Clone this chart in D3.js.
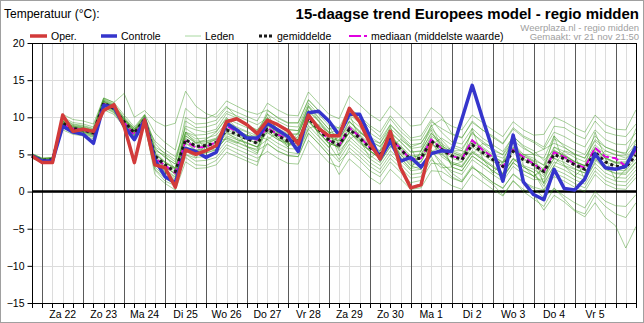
<!DOCTYPE html>
<html lang="nl">
<head>
<meta charset="UTF-8" />
<title>15-daagse trend</title>
<script src="https://d3js.org/d3.v7.min.js"></script>
<style>
  body { margin: 0; background: #fff; }
  text { font-family: "Liberation Sans", Arial, sans-serif; }
</style>
</head>
<body>
<div id="chart"></div>
<script>
  // day labels (at 12:00 of each day), points every 6 hours starting vr 21 18:00
  const dayLabels = ["Za 22", "Zo 23", "Ma 24", "Di 25", "Wo 26", "Do 27", "Vr 28",
    "Za 29", "Zo 30", "Ma 1", "Di 2", "Wo 3", "Do 4", "Vr 5"]
  const yTicks = [-15, -10, -5, 0, 5, 10, 15, 20]

  const oper = [4.8, 3.9, 3.9, 10.3, 8.1, 8.4, 8.1, 10.9, 11.7, 8.8,
    3.9, 9.6, 3.6, 3.2, 0.6, 5.6, 5.0, 5.5, 6.2, 9.4,
    9.8, 9.0, 7.8, 9.6, 9.0, 8.2, 6.4, 10.3, 8.5, 7.5,
    7.5, 11.2, 9.4, 6.5, 4.4, 8.1, 3.2, 0.5, 0.9, 6.5]

  const controle = [4.8, 4.1, 4.1, 8.8, 8.0, 7.7, 6.5, 11.6, 11.4, 8.8,
    7.0, 9.6, 4.3, 2.0, 1.2, 5.8, 5.4, 4.6, 5.3, 9.2,
    8.3, 7.2, 7.2, 9.2, 8.3, 7.4, 5.4, 10.6, 10.8, 9.5,
    7.6, 10.4, 10.4, 7.4, 4.4, 6.8, 4.1, 4.6, 3.3, 5.1,
    5.5, 5.4, 9.8, 14.3, 9.9, 5.6, 1.4, 7.6, 1.3, -0.4,
    -1.1, 3.0, 0.4, 0.2, 1.7, 5.1, 3.2, 3.0, 3.4, 6.1]

  const gemiddelde = [4.8, 4.2, 4.3, 9.2, 8.5, 8.3, 7.9, 11.9, 11.2, 9.4,
    7.9, 9.7, 4.8, 3.6, 2.7, 7.0, 6.1, 6.2, 6.6, 8.3,
    7.7, 7.1, 6.5, 8.4, 7.5, 6.8, 6.7, 9.9, 8.4, 6.9,
    6.3, 8.4, 7.2, 5.9, 5.0, 7.0, 5.7, 4.3, 4.5, 6.8,
    5.7, 4.8, 4.3, 6.3, 5.3, 4.3, 3.4, 5.4, 4.3, 3.6,
    2.7, 5.0, 4.4, 3.6, 3.0, 5.3, 4.0, 3.4, 3.3, 4.9]

  const mediaan = [4.7, 4.1, 4.2, 9.1, 8.5, 8.3, 7.8, 11.8, 11.3, 9.3,
    7.6, 9.7, 4.5, 3.5, 2.5, 6.8, 5.9, 6.0, 6.7, 8.8,
    8.1, 7.2, 7.0, 8.6, 7.7, 7.0, 6.5, 10.0, 8.5, 6.9,
    6.2, 8.6, 7.4, 5.9, 5.0, 7.1, 5.8, 4.3, 4.5, 7.0,
    5.8, 4.8, 4.4, 6.9, 5.6, 4.65, 3.3, 5.65, 4.65, 3.75,
    2.7, 5.3, 4.65, 3.75, 3.2, 5.9, 4.7, 4.5, 3.4, 5.6]

  const leden = [
    [5.0, 4.4, 4.5, 9.8, 9.0, 8.8, 8.4, 12.4, 11.7, 9.9, 8.4, 10.3, 6.0, 5.2, 4.3, 8.8, 8.3, 8.0, 8.4, 10.5,
     9.9, 9.0, 8.3, 9.9, 8.4, 7.6, 7.8, 10.8, 9.6, 8.0, 7.6, 10.6, 9.9, 8.6, 7.4, 9.8, 8.1, 6.9, 7.0, 9.4,
     8.5, 7.7, 7.2, 9.5, 8.3, 7.5, 6.5, 8.6, 7.5, 6.8, 6.0, 8.8, 8.6, 7.7, 7.1, 9.5, 8.0, 7.6, 7.4, 9.1],
    [4.6, 4.0, 4.1, 8.7, 8.1, 7.9, 7.5, 11.5, 10.8, 9.0, 7.5, 9.3, 3.3, 2.0, 1.0, 4.6, 3.6, 3.5, 4.2, 5.9,
     5.2, 4.5, 4.0, 6.5, 5.4, 4.9, 4.7, 7.8, 6.5, 4.9, 5.0, 7.4, 6.1, 4.9, 3.9, 6.1, 4.6, 3.1, 3.4, 5.6,
     3.5, 2.0, 1.3, 3.2, 2.4, 1.2, 0.5, 2.3, 1.2, 0.4, -0.8, 0.4, -0.6, -1.5, -2.2, 0.0, -1.3, -1.9, -2.0, -0.4],
    [4.9, 4.3, 4.4, 10.0, 9.3, 9.1, 8.7, 12.6, 12.0, 10.3, 8.7, 10.4, 7.9, 6.6, 5.6, 11.2, 10.0, 9.8, 10.5, 12.2,
     11.5, 10.8, 10.4, 11.0, 9.9, 9.2, 9.3, 12.3, 10.9, 9.3, 8.5, 9.4, 8.0, 6.8, 6.1, 8.0, 6.7, 5.3, 5.4, 7.9,
     6.2, 5.3, 4.7, 7.0, 5.8, 4.7, 4.0, 6.0, 5.0, 4.2, 3.6, 7.1, 6.3, 5.6, 5.0, 7.5, 6.0, 5.4, 5.2, 7.0],
    [4.5, 3.9, 4.0, 8.3, 7.7, 7.5, 7.1, 11.0, 10.4, 8.7, 7.1, 8.9, 2.9, 1.4, 0.8, 6.0, 5.0, 5.2, 5.7, 7.2,
     6.6, 6.0, 5.7, 9.6, 9.0, 8.4, 8.2, 11.6, 10.0, 8.4, 8.6, 11.2, 10.2, 8.9, 8.0, 10.2, 8.6, 7.2, 7.5, 9.7,
     8.0, 6.7, 6.4, 8.5, 7.2, 6.3, 5.4, 7.4, 6.2, 5.5, 4.2, 5.6, 4.8, 4.0, 3.5, 5.8, 4.6, 3.9, 3.8, 5.3],
    [5.1, 4.5, 4.6, 9.5, 8.8, 8.6, 8.2, 12.2, 11.5, 9.7, 8.2, 10.0, 5.4, 4.0, 3.2, 6.6, 5.6, 5.7, 6.0, 7.8,
     7.2, 6.6, 6.0, 7.0, 6.0, 5.3, 5.1, 8.4, 6.9, 5.4, 4.0, 5.4, 4.2, 2.8, 2.0, 4.0, 2.6, 1.2, 1.5, 3.8,
     3.7, 2.8, 2.3, 4.3, 3.3, 2.3, 1.4, 3.4, 2.3, 1.6, 1.7, 4.0, 3.4, 2.6, 2.0, 4.3, 3.0, 2.4, 2.3, 3.9],
    [4.8, 4.2, 4.3, 9.0, 8.3, 8.1, 7.7, 11.7, 11.0, 9.2, 7.7, 9.5, 4.0, 2.8, 1.9, 8.0, 7.1, 7.2, 7.6, 9.3,
     8.7, 8.1, 7.5, 10.9, 10.0, 9.3, 9.2, 12.4, 10.9, 9.4, 7.3, 8.9, 7.7, 6.4, 5.5, 7.5, 6.2, 4.8, 5.0, 7.3,
     5.2, 3.8, 3.3, 5.3, 4.3, 3.3, 2.4, 4.4, 3.3, 2.6, 0.2, 2.0, 1.4, 0.6, 0.0, 2.3, 1.0, 0.4, 0.3, 1.9],
    [4.7, 4.1, 4.2, 9.8, 9.1, 8.9, 8.5, 12.5, 11.8, 10.0, 8.5, 10.3, 5.8, 4.6, 3.7, 10.0, 9.1, 9.2, 9.6, 11.3,
     10.7, 10.1, 9.5, 11.9, 11.0, 10.3, 10.2, 13.4, 11.9, 10.4, 9.8, 12.9, 11.7, 10.4, 9.5, 11.5, 10.2, 8.8, 9.0, 11.3,
     10.2, 7.8, 7.3, 9.3, 8.3, 7.3, 6.4, 8.4, 7.3, 6.6, 5.7, 6.5, 5.9, 5.1, 4.5, 6.8, 5.5, 4.9, 4.8, 6.4],
    [5.0, 4.4, 4.5, 8.7, 8.0, 7.8, 7.4, 11.4, 10.7, 8.9, 7.4, 9.2, 2.3, 1.1, 0.2, 4.0, 3.1, 3.2, 3.6, 5.3,
     4.7, 4.1, 3.5, 7.4, 6.5, 5.8, 5.7, 8.9, 7.4, 5.9, 7.8, 9.9, 8.7, 7.4, 6.5, 8.5, 7.2, 5.8, 6.0, 8.3,
     5.7, 4.8, 4.3, 6.3, 5.3, 4.3, 3.4, 5.4, 4.3, 3.6, 1.2, 3.5, 2.9, 2.1, 1.5, 3.8, 2.5, 1.9, 1.8, 3.4],
    [4.6, 4.0, 4.1, 9.4, 8.7, 8.5, 8.1, 12.1, 11.4, 9.6, 8.1, 9.9, 4.8, 3.6, 2.7, 7.5, 6.6, 6.7, 7.1, 8.8,
     8.2, 7.6, 7.0, 7.9, 7.0, 6.3, 6.2, 9.4, 7.9, 6.4, 4.3, 6.4, 5.2, 3.9, 3.0, 5.0, 3.7, 2.3, 2.5, 4.8,
     1.7, 0.8, 0.3, 2.3, 1.3, 0.3, -0.6, 1.4, 0.3, -0.4, -2.5, -0.5, -1.4, -2.6, -3.4, -1.5, -3.5, -4.6, -7.6, -4.7],
    [4.9, 4.3, 4.4, 8.9, 8.2, 8.0, 7.6, 11.6, 10.9, 9.1, 7.6, 9.4, 6.8, 5.6, 4.7, 8.5, 7.6, 7.7, 8.1, 9.8,
     9.2, 8.6, 8.0, 8.4, 7.5, 6.8, 6.7, 9.9, 8.4, 6.9, 5.8, 7.9, 6.7, 5.4, 4.5, 6.5, 5.2, 3.8, 4.0, 6.3,
     7.2, 6.3, 5.8, 7.8, 6.8, 5.8, 4.9, 6.9, 5.8, 5.1, 5.7, 8.0, 7.4, 6.6, 6.0, 8.3, 7.0, 6.4, 6.3, 7.9],
    [4.8, 4.2, 4.3, 9.6, 8.9, 8.7, 8.3, 12.3, 11.6, 9.8, 8.3, 10.1, 3.8, 2.6, 1.7, 5.0, 4.1, 4.2, 4.6, 6.3,
     5.7, 5.1, 4.5, 5.4, 4.5, 3.8, 3.7, 6.9, 5.4, 3.9, 3.3, 5.9, 4.7, 3.4, 2.5, 4.5, 3.2, 1.8, 2.0, 4.3,
     3.2, 3.3, 2.8, 4.8, 3.8, 2.8, 1.9, 3.9, 2.8, 2.1, 3.2, 5.5, 4.9, 4.1, 3.5, 5.8, 4.5, 3.9, 3.8, 5.4],
    [5.1, 4.5, 4.6, 10.4, 9.7, 9.5, 9.1, 12.6, 12.0, 13.2, 10.0, 10.9, 9.5, 8.8, 9.2, 13.5, 11.5, 10.5, 10.0, 11.5,
     10.0, 8.8, 8.2, 10.4, 9.5, 8.8, 8.7, 11.9, 10.4, 8.9, 6.3, 8.4, 7.2, 5.9, 5.0, 7.0, 5.7, 4.3, 4.5, 6.8,
     4.7, 3.8, 3.3, 5.3, 4.3, 3.3, 2.4, 4.4, 3.3, 2.6, 0.7, 3.0, 2.4, 1.6, 1.0, 3.3, 2.0, 1.4, 1.3, 2.9],
    [4.5, 3.9, 4.0, 8.6, 7.9, 7.7, 7.3, 11.3, 10.6, 8.8, 7.3, 9.1, 4.5, 3.3, 2.4, 7.0, 6.1, 6.2, 6.6, 8.3,
     7.7, 7.1, 6.5, 9.4, 8.5, 7.8, 7.7, 10.9, 9.4, 7.9, 8.3, 10.4, 9.2, 7.9, 7.0, 9.0, 7.7, 6.3, 6.5, 8.8,
     9.7, 8.8, 8.3, 10.3, 9.3, 8.3, 7.4, 9.4, 8.3, 7.6, 7.7, 10.0, 9.4, 8.6, 8.0, 10.3, 9.0, 8.4, 8.3, 11.0],
    [5.0, 4.4, 4.5, 9.2, 8.5, 8.3, 7.9, 11.9, 11.2, 9.4, 7.9, 9.7, 5.8, 4.6, 3.7, 6.0, 5.1, 5.2, 5.6, 7.3,
     6.7, 6.1, 5.5, 6.4, 5.5, 4.8, 4.7, 7.9, 6.4, 4.9, 2.3, 4.4, 3.2, 1.9, 1.0, 3.0, 1.7, 0.3, 0.5, 2.8,
     2.7, 1.8, 1.3, 3.3, 2.3, 1.3, 0.4, 2.4, 1.3, 0.6, 0.2, 2.5, 1.9, 1.1, 0.5, 2.8, 1.5, 0.9, 0.8, 2.4],
    [4.7, 4.1, 4.2, 9.0, 8.3, 8.1, 7.7, 11.7, 11.0, 9.2, 7.7, 9.5, 3.0, 1.8, 0.9, 9.5, 8.6, 8.7, 9.1, 10.8,
     10.2, 9.6, 9.0, 9.9, 9.0, 8.3, 8.2, 11.4, 9.9, 8.4, 4.8, 6.9, 5.7, 4.4, 3.5, 5.5, 4.2, 2.8, 3.0, 5.3,
     6.2, 5.3, 4.8, 6.8, 5.8, 4.8, 3.9, 5.9, 4.8, 4.1, 2.2, 4.5, 3.9, 3.1, 2.5, 4.8, 3.5, 2.9, 2.8, 4.4],
    [4.8, 4.2, 4.3, 9.5, 8.8, 8.6, 8.2, 12.2, 11.5, 9.7, 8.2, 10.0, 5.1, 3.9, 3.0, 5.5, 4.6, 4.7, 5.1, 6.8,
     6.2, 5.6, 5.0, 8.9, 8.0, 7.3, 7.2, 10.4, 8.9, 7.4, 6.8, 9.4, 8.2, 6.9, 6.0, 8.0, 6.7, 5.3, 5.5, 7.8,
     6.7, 3.3, 2.8, 4.8, 3.8, 2.8, 1.9, 3.9, 2.8, 2.1, 1.2, 6.0, 5.4, 4.6, 4.0, 6.3, 5.0, 4.4, 4.3, 5.9],
    [4.9, 4.1, 4.2, 9.0, 8.6, 8.5, 8.0, 12.2, 11.0, 9.7, 8.5, 9.2, 5.5, 4.9, 3.0, 8.0, 7.5, 5.5, 6.0, 9.8,
     8.0, 6.0, 5.2, 10.0, 7.2, 6.0, 8.0, 11.0, 7.5, 6.0, 7.5, 10.5, 7.0, 4.5, 5.5, 8.8, 4.5, 3.0, 5.5, 9.0,
     6.0, 3.5, 4.0, 8.5, 4.5, 2.5, 4.0, 7.5, 3.5, 2.0, 3.0, 7.5, 3.5, 2.0, 3.5, 8.0, 4.5, 1.5, 3.0, 7.0],
    [4.6, 4.3, 4.4, 9.3, 8.2, 8.0, 7.6, 11.5, 11.5, 9.0, 7.0, 10.0, 5.0, 2.5, 1.5, 5.0, 4.5, 6.5, 7.0, 7.0,
     6.5, 7.5, 7.5, 7.0, 8.0, 7.5, 5.5, 8.5, 9.0, 8.0, 5.5, 7.0, 8.0, 7.0, 4.0, 6.0, 7.0, 6.0, 3.0, 5.5,
     5.0, 6.0, 5.5, 5.0, 6.5, 6.0, 2.0, 4.0, 5.0, 5.0, 1.0, 3.5, 5.5, 5.0, 1.5, 4.0, 5.5, 5.0, 4.5, 6.0],
    [5.0, 4.3, 4.2, 9.5, 8.7, 8.2, 8.0, 12.0, 11.3, 9.2, 8.0, 10.2, 6.5, 5.0, 4.0, 8.0, 6.5, 7.0, 8.0, 10.0,
     8.5, 8.0, 7.0, 10.5, 8.0, 6.0, 7.5, 11.5, 9.5, 7.5, 7.0, 9.5, 8.0, 7.0, 6.5, 9.0, 7.5, 6.0, 6.5, 8.5,
     7.0, 5.5, 5.5, 8.0, 6.5, 5.5, 5.0, 7.5, 6.0, 5.0, 4.5, 7.5, 6.0, 5.0, 4.5, 7.0, 6.0, 5.5, 5.0, 8.5],
    [4.7, 4.0, 4.4, 9.4, 8.4, 8.4, 8.0, 11.8, 11.0, 9.6, 8.0, 9.8, 4.0, 3.0, 2.0, 6.5, 5.5, 6.0, 5.5, 7.5,
     7.0, 6.5, 6.0, 8.0, 7.0, 6.5, 6.0, 9.5, 8.0, 6.5, 6.0, 8.0, 6.5, 5.5, 4.5, 6.5, 5.0, 3.5, 4.0, 6.5,
     5.0, 4.0, 3.5, 5.5, 4.5, 3.5, 2.5, 4.5, 3.5, 3.0, 2.0, 4.5, 3.5, 3.0, 2.5, 4.5, 3.0, 2.5, 2.5, 4.0],
    [4.8, 4.2, 4.1, 9.1, 8.6, 8.2, 7.8, 11.7, 11.1, 9.3, 7.8, 9.6, 4.5, 3.2, 2.5, 7.2, 6.0, 6.0, 6.5, 8.0,
     7.5, 7.0, 6.5, 8.2, 7.2, 6.5, 6.5, 9.6, 8.0, 6.5, 6.0, 8.0, 6.8, 5.5, 4.5, 6.6, 5.0, 3.5, 3.0, 5.5,
     4.0, 2.5, 1.5, 3.5, 2.0, 1.0, -0.5, 1.5, 0.0, -1.0, -2.0, 0.5, -1.0, -2.5, -3.0, -0.5, -2.0, -3.0, -3.5, -1.5],
    [4.9, 4.3, 4.3, 9.3, 8.4, 8.3, 7.9, 11.9, 11.3, 9.4, 7.9, 9.7, 5.0, 4.0, 3.0, 7.5, 6.5, 6.5, 7.0, 8.5,
     8.0, 7.5, 7.0, 9.0, 8.0, 7.0, 7.0, 10.0, 8.5, 7.0, 6.5, 8.5, 7.5, 6.0, 5.0, 7.5, 6.0, 4.5, 5.0, 7.5,
     6.5, 5.5, 5.0, 7.0, 6.0, 5.0, 4.5, 6.5, 5.0, 4.5, 3.5, 6.0, 5.0, 4.0, 3.5, 6.0, 4.5, 4.0, 4.0, 5.5],
    [4.7, 4.2, 4.3, 9.0, 8.3, 8.3, 7.7, 11.6, 11.0, 9.0, 7.5, 9.4, 4.2, 3.5, 2.2, 6.0, 5.5, 5.5, 6.0, 8.0,
     7.0, 6.5, 6.0, 8.5, 7.5, 6.5, 6.5, 9.5, 8.0, 6.5, 6.0, 8.0, 7.0, 5.5, 4.5, 7.0, 5.5, 4.0, 4.5, 6.5,
     5.5, 4.5, 4.0, 6.0, 5.0, 4.0, 3.5, 5.5, 4.5, 3.5, 2.5, 5.0, 4.5, 3.5, 3.0, 5.5, 4.0, 3.5, 3.0, 5.0],
    [4.8, 4.1, 4.2, 9.2, 8.6, 8.4, 7.9, 12.0, 11.3, 9.5, 8.0, 9.8, 5.2, 3.8, 3.2, 7.8, 6.8, 6.8, 7.2, 9.0,
     8.2, 7.6, 6.8, 8.8, 7.8, 7.2, 7.0, 10.2, 8.8, 7.2, 6.8, 8.8, 7.6, 6.2, 5.4, 7.4, 6.0, 4.6, 4.8, 7.0,
     6.0, 5.0, 4.6, 6.6, 5.6, 4.6, 3.8, 5.8, 4.8, 4.0, 3.0, 5.4, 4.8, 4.0, 3.4, 5.8, 4.4, 3.8, 3.6, 5.2]
  ]

  const W = 644, H = 323
  const mLeft = 32, mRight = 636, mTop = 43, mBottom = 303

  const svg = d3.select("#chart").append("svg")
    .attr("width", W).attr("height", H)

  // outer frame
  svg.append("rect")
    .attr("x", 0.5).attr("y", 0.5).attr("width", W - 1).attr("height", H - 1)
    .attr("fill", "#fff").attr("stroke", "#a0a0a0")

  const x = d3.scaleLinear().domain([0, 59]).range([mLeft, mRight])
  const y = d3.scaleLinear().domain([-15, 20]).range([mBottom, mTop])
  const px = v => Math.round(v) + 0.5

  // horizontal grid
  svg.append("g").selectAll("line").data(yTicks).enter().append("line")
    .attr("x1", mLeft).attr("x2", mRight)
    .attr("y1", d => px(y(d))).attr("y2", d => px(y(d)))
    .attr("stroke", "#dcdcdc")

  // vertical grid, dark line at midnight (index 1, 5, 9 ...)
  const idx = d3.range(1, 59)
  svg.append("g").selectAll("line").data(idx.filter(i => (i - 1) % 4 !== 0)).enter().append("line")
    .attr("x1", i => px(x(i))).attr("x2", i => px(x(i)))
    .attr("y1", mTop).attr("y2", mBottom)
    .attr("stroke", "#dcdcdc")
  svg.append("g").selectAll("line").data(idx.filter(i => (i - 1) % 4 === 0)).enter().append("line")
    .attr("x1", i => px(x(i))).attr("x2", i => px(x(i)))
    .attr("y1", mTop).attr("y2", mBottom)
    .attr("stroke", "#5a5a5a")

  // zero line
  svg.append("line")
    .attr("x1", mLeft).attr("x2", mRight)
    .attr("y1", y(0)).attr("y2", y(0))
    .attr("stroke", "#000").attr("stroke-width", 2.5)

  const line = d3.line().x((d, i) => x(i)).y(d => y(d))

  // ensemble members
  svg.append("g").selectAll("path").data(leden).enter().append("path")
    .attr("d", line)
    .attr("fill", "none")
    .attr("stroke", "rgb(60,150,30)")
    .attr("stroke-opacity", 0.45)
    .attr("stroke-width", 1)

  svg.append("path").datum(mediaan).attr("d", line)
    .attr("fill", "none").attr("stroke", "#e000e0").attr("stroke-width", 2)
    .attr("stroke-dasharray", "7,3")
  svg.append("path").datum(gemiddelde).attr("d", line)
    .attr("fill", "none").attr("stroke", "#1a1a1a").attr("stroke-width", 3)
    .attr("stroke-dasharray", "3,3")
  svg.append("path").datum(controle).attr("d", line)
    .attr("fill", "none").attr("stroke", "#3535cc").attr("stroke-width", 3.5)
    .attr("stroke-linejoin", "round")
  svg.append("path").datum(oper).attr("d", line)
    .attr("fill", "none").attr("stroke", "#d23a3a").attr("stroke-width", 3.5)
    .attr("stroke-linejoin", "round")

  // plot frame
  svg.append("rect")
    .attr("x", mLeft + 0.5).attr("y", mTop + 0.5)
    .attr("width", mRight - mLeft).attr("height", mBottom - mTop)
    .attr("fill", "none").attr("stroke", "#000")

  // y axis
  const yAxis = svg.append("g")
    .attr("transform", `translate(${mLeft + 0.5},0)`)
    .call(d3.axisLeft(y).tickValues(yTicks).tickSize(5).tickPadding(3).tickSizeOuter(0))
  yAxis.select(".domain").remove()
  yAxis.selectAll("text").attr("font-size", "10.5px").attr("fill", "#000")
    .style("font-family", "'Liberation Sans', Arial, sans-serif")

  // bottom ticks every 6 hours
  svg.append("g").selectAll("line").data(d3.range(0, 60)).enter().append("line")
    .attr("x1", i => px(x(i))).attr("x2", i => px(x(i)))
    .attr("y1", mBottom).attr("y2", mBottom + 5)
    .attr("stroke", "#000")

  svg.append("g").selectAll("text").data(dayLabels).enter().append("text")
    .attr("x", (d, k) => x(3 + k * 4))
    .attr("y", 318)
    .attr("text-anchor", "middle")
    .attr("font-size", "10.5px")
    .text(d => d)

  // titles
  svg.append("text").attr("x", 4).attr("y", 18).attr("font-size", "12px").text("Temperatuur (°C):")
  svg.append("text").attr("x", 639).attr("y", 19).attr("text-anchor", "end")
    .attr("font-size", "15px").attr("font-weight", "bold")
    .text("15-daagse trend Europees model - regio midden")
  svg.append("text").attr("x", 639).attr("y", 30.5).attr("text-anchor", "end")
    .attr("font-size", "9.5px").attr("fill", "#a0a0a0")
    .text("Weerplaza.nl - regio midden")
  svg.append("text").attr("x", 639).attr("y", 40).attr("text-anchor", "end")
    .attr("font-size", "9.5px").attr("fill", "#a0a0a0")
    .text("Gemaakt: vr 21 nov 21:50")

  // legend
  const legNames = ["Oper.", "Controle", "Leden", "gemiddelde", "mediaan (middelste waarde)"]
  const legColors = ["#d23a3a", "#3535cc", "#a8d8a0", "#1a1a1a", "#e000e0"]
  const legX = [30, 101, 185, 259, 349]
  const legW = [17, 16, 16, 14, 18]
  const legSW = [3.5, 3.5, 1, 3, 2]
  const legDash = [null, null, null, "3,2", "12,3,3,3"]
  const leg = svg.append("g")
  legNames.forEach((n, k) => {
    leg.append("line")
      .attr("x1", legX[k]).attr("x2", legX[k] + legW[k])
      .attr("y1", 36).attr("y2", 36)
      .attr("stroke", legColors[k]).attr("stroke-width", legSW[k])
      .attr("stroke-dasharray", legDash[k])
    leg.append("text")
      .attr("x", legX[k] + legW[k] + 4).attr("y", 40)
      .attr("font-size", "10.5px")
      .text(n)
  })
</script>
</body>
</html>
